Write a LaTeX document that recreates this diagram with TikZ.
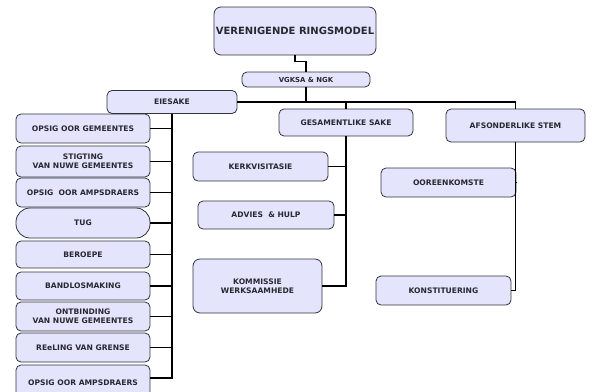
\documentclass[tikz,border=0pt]{standalone}
\usepackage{fontspec}
\setmainfont{DejaVu Sans}
\definecolor{boxfill}{RGB}{228,228,252}
\definecolor{boxline}{RGB}{50,50,60}
\definecolor{txt}{RGB}{40,40,50}
\tikzset{
  box/.style={draw=boxline, fill=boxfill, line width=0.8pt, rounded corners=5pt,
    inner sep=0pt, align=center, text=txt, font=\bfseries\fontsize{7.6}{8.8}\selectfont},
  conn/.style={draw=black, line width=1.4pt},
}
\newcommand{\bx}[6]{\node[box, minimum width=#4, minimum height=#5, #6] (#1) at (#2,#3)}
\begin{document}
\begin{tikzpicture}[x=1pt,y=-1pt]
\useasboundingbox (0,0) rectangle (594,391);
% boxes
\bx{title}{295}{31}{162}{48}{rounded corners=7pt, font=\bfseries\fontsize{10}{12}\selectfont}{VERENIGENDE RINGSMODEL};
\bx{vgksa}{306}{79.5}{128}{15}{font=\bfseries\fontsize{6.9}{8}\selectfont}{VGKSA \& NGK};
\bx{eie}{172}{102}{130}{23}{}{EIESAKE};
\bx{ges}{346}{122.5}{134}{27}{}{GESAMENTLIKE SAKE};
\bx{afs}{515.5}{125.5}{139}{33}{}{AFSONDERLIKE STEM};
% left column
\bx{l1}{83}{128.5}{134}{29}{}{OPSIG OOR GEMEENTES};
\bx{l2}{83}{161.5}{134}{31}{}{STIGTING\\VAN NUWE GEMEENTES};
\bx{l3}{83}{192.5}{134}{29}{}{OPSIG\ \ OOR AMPSDRAERS};
\bx{l4}{83}{223}{134}{30}{rounded corners=14pt}{TUG};
\bx{l5}{83}{254.5}{134}{27}{}{BEROEPE};
\bx{l6}{83}{286}{134}{28}{}{BANDLOSMAKING};
\bx{l7}{83}{316.5}{134}{29}{}{ONTBINDING\\VAN NUWE GEMEENTES};
\bx{l8}{83}{347.5}{134}{29}{}{REeLING VAN GRENSE};
\bx{l9}{83}{383}{134}{36}{}{OPSIG OOR AMPSDRAERS};
% middle column
\bx{m1}{260.5}{166.5}{135}{29}{}{KERKVISITASIE};
\bx{m2}{266}{215}{136}{28}{}{ADVIES\ \ \& HULP};
\bx{m3}{257.5}{286}{129}{54}{rounded corners=7pt}{KOMMISSIE\\WERKSAAMHEDE};
% right column
\bx{r1}{448.5}{182.5}{135}{29}{}{OOREENKOMSTE};
\bx{r2}{443.5}{290.5}{135}{29}{}{KONSTITUERING};
% connectors
\draw[conn] (title.south) -- ++(0,6) -| (vgksa.north);
\draw[conn] (vgksa.south) -- (vgksa.south |- eie.east);
\draw[conn] (eie.east) -| (afs.north);
\draw[conn] (ges.north |- eie.east) -- (ges.north);
\coordinate (l9c) at ([yshift=5pt]l9.east);
\draw[conn] (eie.south) -- (eie.south |- l9c) -- (l9c);
\foreach \n in {l1,l2,l3,l4,l5,l6,l7,l8} \draw[conn] (\n.east) -- (\n.east -| eie.south);
\draw[conn] (ges.south) -- (ges.south |- m3.east) -- (m3.east);
\foreach \n in {m1,m2} \draw[conn] (\n.east) -- (\n.east -| ges.south);
\draw[conn] (afs.south) -- (afs.south |- r2.east) -- (r2.east);
\draw[conn] (r1.east) -- (r1.east -| afs.south);
\end{tikzpicture}
\end{document}
